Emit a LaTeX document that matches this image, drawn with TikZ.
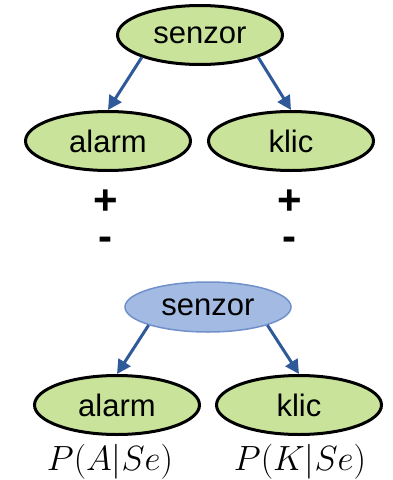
\RequirePackage{fix-cm}
\documentclass[tikz,border=0pt]{standalone}
\usepackage{fontspec}
\setmainfont{Liberation Sans}
\usetikzlibrary{shapes.geometric,arrows.meta}
\definecolor{leaf}{HTML}{C9E49A}
\definecolor{rootblue}{HTML}{A3BBE2}
\definecolor{rootedge}{HTML}{7090CC}
\definecolor{arrowblue}{HTML}{2F5A9A}
\tikzset{
  greennode/.style={ellipse, draw=black, line width=3pt, fill=leaf,
    minimum width=165pt, minimum height=59pt, inner sep=0pt,
    font=\fontsize{31}{36}\selectfont},
  bluenode/.style={ellipse, draw=rootedge, line width=1.5pt, fill=rootblue,
    minimum width=166pt, minimum height=50pt, inner sep=0pt,
    font=\fontsize{31}{36}\selectfont},
  link/.style={draw=arrowblue, line width=3pt,
    -{Triangle[length=14pt,width=14pt]}},
  signs/.style={font=\fontsize{42}{36}\selectfont\bfseries, inner sep=0pt,
    align=center, anchor=base},
  prob/.style={font=\fontsize{35}{40}\selectfont, inner sep=0pt}
}
\begin{document}
\begin{tikzpicture}[x=1pt,y=-1pt]
\useasboundingbox (0,0) rectangle (393,480);
% upper network
\node[greennode] (s1) at (200,35) {senzor};
\node[greennode] (a1) at (108,141) {alarm};
\node[greennode] (k1) at (291,141) {klic};
\draw[link] (s1.201) -- (a1.north);
\draw[link] (s1.339) -- (k1.north);
% states of each child
\node[signs] (as) at (105.5,250) {+\\-};
\node[signs] (ks) at (289.5,250) {+\\-};
% lower network
\node[bluenode] (s2) at (208,307) {senzor};
\node[greennode] (a2) at (117,405) {alarm};
\node[greennode] (k2) at (299,405) {klic};
\draw[link] (s2.197) -- (a2.north);
\draw[link] (s2.343) -- (k2.north);
\node[prob] (pa) at (110,462) {$P(A|Se)$};
\node[prob] (pk) at (300,462) {$P(K|Se)$};
\end{tikzpicture}
\end{document}
